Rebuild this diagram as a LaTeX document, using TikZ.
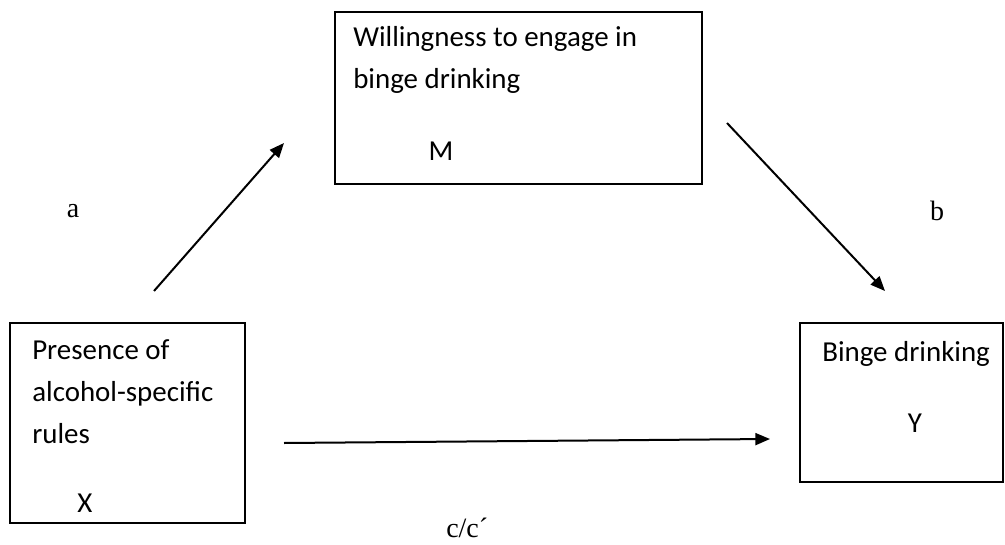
\documentclass[tikz,border=0pt]{standalone}
\usepackage{fontspec}
\setmainfont{Liberation Serif}
\newfontfamily\boxfont{Carlito}
\usetikzlibrary{positioning}
\usetikzlibrary{fit}
\usetikzlibrary{arrows.meta}

\begin{document}
\begin{tikzpicture}[
  x=0.75pt, y=-0.75pt,
  box/.style={draw, line width=1.1pt, inner sep=0pt},
  txt/.style={font=\boxfont\fontsize{21.7}{31.5}\selectfont, inner sep=0pt, align=left},
  coef/.style={font=\fontsize{21}{24}\selectfont, inner sep=0pt},
  arrow/.style={-{Triangle[length=11pt,width=9pt]}, line width=1.5pt}
]
\useasboundingbox (0,0) rectangle (1005,545);

% Boxes
\node[box, fit={(335,12) (702,184)}] (m) {};
\node[box, fit={(10,323) (245,523)}] (x) {};
\node[box, fit={(800,323) (1003,482)}] (y) {};

% Texts
\node[txt, anchor=north west] (mtext) at (353,26) {Willingness to engage in\\binge drinking};
\node[txt] (mlab) at (441,151) {M};
\node[txt, anchor=north west] (xtext) at (32,339) {Presence of\\alcohol-specific\\rules};
\node[txt] (xlab) at (85,503) {X};
\node[txt, anchor=north west] (ytext) at (822,341) {Binge drinking};
\node[txt] (ylab) at (915,423) {Y};

% Coefficients
\node[coef] (a) at (73,211) {a};
\node[coef] (b) at (937,211) {b};
\node[coef, anchor=base west] (c) at (446,537) {c/c´};

% Arrows
\coordinate (a0) at (154,291);
\coordinate (a1) at (284,143);
\coordinate (b0) at (727,123);
\coordinate (b1) at (885,291);
\coordinate (c0) at (284,443);
\coordinate (c1) at (770,439);
\draw[arrow] (a0) -- (a1);
\draw[arrow] (b0) -- (b1);
\draw[arrow] (c0) -- (c1);
\end{tikzpicture}
\end{document}
